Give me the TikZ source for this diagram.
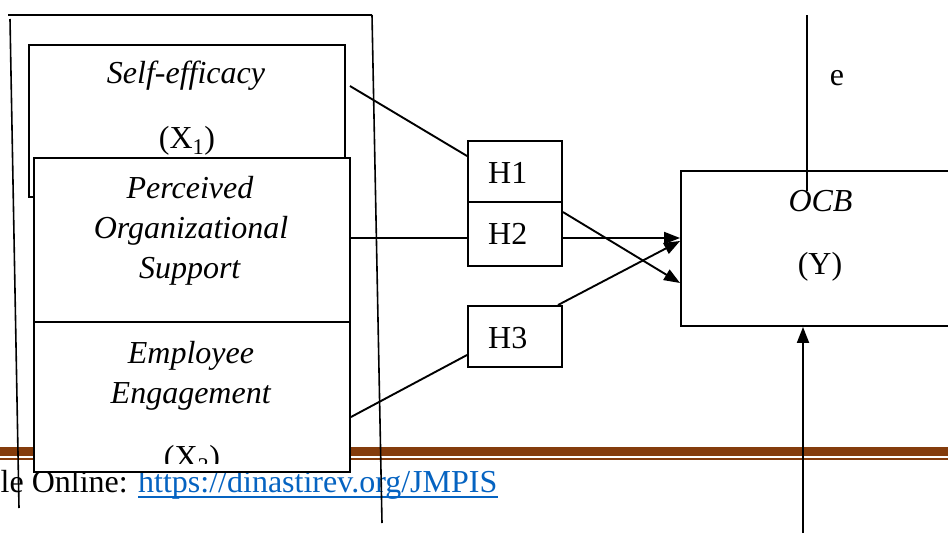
\documentclass[tikz,border=0pt]{standalone}
\usepackage{fontspec}
\setmainfont{Liberation Serif}
\usetikzlibrary{arrows.meta}

\definecolor{bandbrown}{HTML}{843C0C}
\definecolor{linkblue}{HTML}{0563C1}

\tikzset{
  varbox/.style={draw, line width=1.9pt, fill=white, inner sep=0pt},
  hbox/.style={varbox, minimum width=94pt},
  link/.style={line width=1.9pt},
  arr/.style={line width=1.9pt, -{Triangle[length=16pt,width=12pt]}},
  frameline/.style={line width=1.6pt}
}

\begin{document}
\begin{tikzpicture}[x=1pt, y=-1pt, font=\fontsize{32}{40}\selectfont]
    % Picture size (pixels of the page)
    \def\pagewidth{948}
    \def\pageheight{533}
    \clip (0,0) rectangle (\pagewidth,\pageheight);

    % Brown band of the page footer
    \fill[bandbrown] (0,447) rectangle (\pagewidth,455.5);
    \fill[bandbrown] (0,458) rectangle (\pagewidth,460);

    % Footer text
    \node[inner sep=0pt, anchor=base west, text=linkblue] (url) at (138,492) {https://dinastirev.org/JMPIS};
    \node[inner sep=0pt, anchor=base east] (avail) at ([xshift=-10pt]url.base west) {ble Online:};
    \draw[linkblue, line width=1.5pt] ([yshift=-5pt]url.base west) -- ([yshift=-5pt]url.base east);

    % Variable boxes
    \node[varbox, minimum width=316pt, minimum height=152pt] (se) at (187,121) {};
    \node[varbox, minimum width=316pt, minimum height=164pt] (pos) at (192,240) {};
    \node[varbox, minimum width=316pt, minimum height=150pt] (ee) at (192,397) {};

    \node[anchor=base] (setxt) at (186,83) {\textit{Self-efficacy}};
    \node[anchor=base] (xonetxt) at (187,148) {(X\textsubscript{1})};

    \node[anchor=base] (postxt1) at (190,198) {\textit{Perceived}};
    \node[anchor=base] (postxt2) at (191,238) {\textit{Organizational}};
    \node[anchor=base] (postxt3) at (190,278) {\textit{Support}};

    \node[anchor=base] (eetxt1) at (191,363) {\textit{Employee}};
    \node[anchor=base] (eetxt2) at (191,403) {\textit{Engagement}};
    \begin{scope}
      \clip (34,322) rectangle (350,463);
      \node[anchor=base] (xthreetxt) at (192,467) {(X\textsubscript{3})};
    \end{scope}

    % Outer frame
    \draw[frameline] (8,15) -- (372,15);
    \draw[frameline] (10,19) -- (19,508);
    \draw[frameline] (372,15) -- (382,523);

    % Hypothesis boxes
    \foreach \n/\yc/\ht/\bl in {1/171.5/61/183, 2/234/64/244, 3/336.5/61/348} {
      \node[hbox, minimum height=\ht pt] (h\n) at (515,\yc) {};
      \node[inner sep=0pt, anchor=base west] (h\n txt) at (488,\bl) {H\n};
    }

    % Dependent variable
    \node[varbox, minimum width=279pt, minimum height=155pt] (ocb) at (820.5,248.5) {};
    \node[anchor=base] (ocbtxt) at (820.5,211) {\textit{OCB}};
    \node[anchor=base] (ytxt) at (820,274) {(Y)};

    % Lines into the hypotheses
    \draw[link] ([xshift=4pt,yshift=35pt]se.east) -- ([yshift=15.5pt]h1.west);
    \draw[link] ([yshift=2pt]pos.east) -- ([yshift=-4pt]h2.west);
    \draw[link] ([yshift=-20pt]ee.east) -- ([yshift=-18.5pt]h3.west);

    % Arrows to OCB
    \draw[arr] ([yshift=-4pt]h2.east) -- ([yshift=10.5pt]ocb.west);
    \draw[arr] ([yshift=-11pt]h2.north east) -- ([yshift=-34.5pt]ocb.west);
    \draw[arr] ([xshift=-5pt]h3.north east) -- ([yshift=7.5pt]ocb.west);

    \coordinate (ybot) at (803,\pageheight);
    \draw[arr] (ybot) -- (ybot |- ocb.south);

    % Error term
    \coordinate (etop) at (807,15);
    \coordinate (eend) at (807,191);
    \draw[line width=1.1pt] (etop) -- (eend);
    \node[anchor=base] (elbl) at (837,85) {e};
\end{tikzpicture}
\end{document}
